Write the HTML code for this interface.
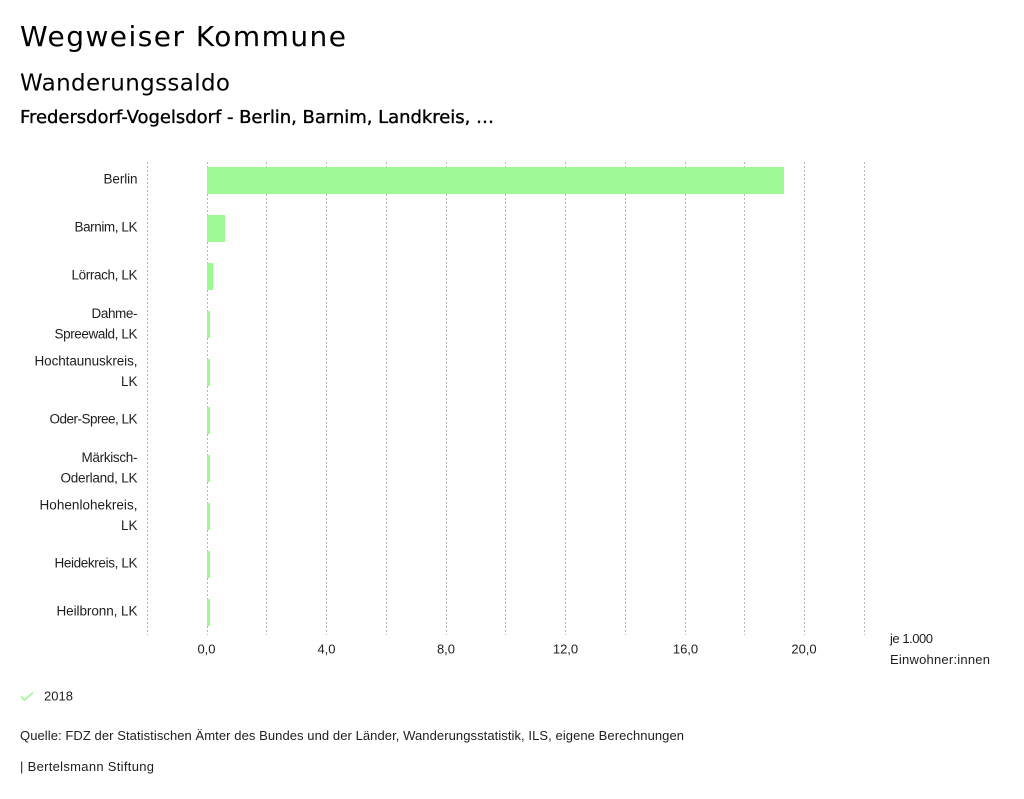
<!DOCTYPE html>
<html>
<head>
<meta charset="utf-8">
<style>
  html, body { margin: 0; padding: 0; background: #ffffff; }
  body { width: 1024px; height: 799px; overflow: hidden; }
  svg { display: block; }
  .t { font-family: "DejaVu Sans", "Liberation Sans", sans-serif; fill: #000; }
  .s { font-family: "Liberation Sans", "DejaVu Sans", sans-serif; fill: #1e1e1e; font-size: 13px; }
  .l { font-family: "Liberation Sans", "DejaVu Sans", sans-serif; fill: #1e1e1e; font-size: 13.5px; }
</style>
</head>
<body>
<svg width="1024" height="799" viewBox="0 0 1024 799" xmlns="http://www.w3.org/2000/svg">
  <rect x="0" y="0" width="1024" height="799" fill="#ffffff"/>

  <!-- Titles -->
  <text class="t" x="20" y="46" font-size="28" textLength="326" lengthAdjust="spacing">Wegweiser Kommune</text>
  <text class="t" x="20" y="90.5" font-size="23" textLength="210" lengthAdjust="spacing">Wanderungssaldo</text>
  <text class="t" x="20" y="123" font-size="18" stroke="#000" stroke-width="0.35" textLength="474" lengthAdjust="spacing">Fredersdorf-Vogelsdorf - Berlin, Barnim, Landkreis, …</text>

  <!-- Grid lines -->
  <g stroke="#b5b5b5" stroke-width="1" stroke-dasharray="2,2">
    <line x1="147.5" y1="162" x2="147.5" y2="635"/>
    <line x1="207.5" y1="162" x2="207.5" y2="635"/>
    <line x1="266.5" y1="162" x2="266.5" y2="635"/>
    <line x1="326.5" y1="162" x2="326.5" y2="635"/>
    <line x1="386.5" y1="162" x2="386.5" y2="635"/>
    <line x1="446.5" y1="162" x2="446.5" y2="635"/>
    <line x1="505.5" y1="162" x2="505.5" y2="635"/>
    <line x1="565.5" y1="162" x2="565.5" y2="635"/>
    <line x1="625.5" y1="162" x2="625.5" y2="635"/>
    <line x1="685.5" y1="162" x2="685.5" y2="635"/>
    <line x1="744.5" y1="162" x2="744.5" y2="635"/>
    <line x1="804.5" y1="162" x2="804.5" y2="635"/>
    <line x1="864.5" y1="162" x2="864.5" y2="635"/>
  </g>

  <!-- Bars -->
  <g fill="#9cf993">
    <rect x="207" y="167" width="577" height="27"/>
    <rect x="207" y="215" width="18" height="27"/>
    <rect x="207" y="263" width="6" height="27"/>
    <rect x="207" y="311" width="3" height="27"/>
    <rect x="207" y="359" width="3" height="27"/>
    <rect x="207" y="407" width="3" height="27"/>
    <rect x="207" y="455" width="3" height="27"/>
    <rect x="207" y="503" width="3" height="27"/>
    <rect x="207" y="551" width="3" height="27"/>
    <rect x="207" y="599" width="3" height="27"/>
  </g>

  <!-- Category labels -->
  <text class="l" x="137.5" y="183.5" text-anchor="end" textLength="34" lengthAdjust="spacing">Berlin</text>
  <text class="l" x="137.5" y="231.5" text-anchor="end" textLength="63" lengthAdjust="spacing">Barnim, LK</text>
  <text class="l" x="137.5" y="279.5" text-anchor="end" textLength="66" lengthAdjust="spacing">Lörrach, LK</text>
  <text class="l" x="137.5" y="318" text-anchor="end" textLength="46" lengthAdjust="spacing">Dahme-</text>
  <text class="l" x="137.5" y="338.5" text-anchor="end" textLength="83" lengthAdjust="spacing">Spreewald, LK</text>
  <text class="l" x="137.5" y="365.5" text-anchor="end" textLength="103" lengthAdjust="spacing">Hochtaunuskreis,</text>
  <text class="l" x="137.5" y="386" text-anchor="end">LK</text>
  <text class="l" x="137.5" y="423.5" text-anchor="end" textLength="88" lengthAdjust="spacing">Oder-Spree, LK</text>
  <text class="l" x="137.5" y="462" text-anchor="end" textLength="56" lengthAdjust="spacing">Märkisch-</text>
  <text class="l" x="137.5" y="482.5" text-anchor="end" textLength="77" lengthAdjust="spacing">Oderland, LK</text>
  <text class="l" x="137.5" y="509.5" text-anchor="end" textLength="98" lengthAdjust="spacing">Hohenlohekreis,</text>
  <text class="l" x="137.5" y="530" text-anchor="end">LK</text>
  <text class="l" x="137.5" y="567.5" text-anchor="end" textLength="83" lengthAdjust="spacing">Heidekreis, LK</text>
  <text class="l" x="137.5" y="615.5" text-anchor="end" textLength="81" lengthAdjust="spacing">Heilbronn, LK</text>

  <!-- Tick labels -->
  <text class="s" x="206.5" y="653.5" text-anchor="middle" font-size="12.5">0,0</text>
  <text class="s" x="326.5" y="653.5" text-anchor="middle" font-size="12.5">4,0</text>
  <text class="s" x="446" y="653.5" text-anchor="middle" font-size="12.5">8,0</text>
  <text class="s" x="565.5" y="653.5" text-anchor="middle" font-size="12.5">12,0</text>
  <text class="s" x="685.5" y="653.5" text-anchor="middle" font-size="12.5">16,0</text>
  <text class="s" x="804" y="653.5" text-anchor="middle" font-size="12.5">20,0</text>

  <!-- Unit -->
  <text class="s" x="890" y="643" textLength="43" lengthAdjust="spacing">je 1.000</text>
  <text class="s" x="890" y="664" textLength="100" lengthAdjust="spacing">Einwohner:innen</text>

  <!-- Legend -->
  <polyline points="21,696.5 24.5,700 33,692.5" fill="none" stroke="#9cf993" stroke-width="1.6"/>
  <text class="s" x="44" y="700.5" font-size="12.5">2018</text>

  <!-- Footer -->
  <text class="s" x="20" y="740" font-size="12.5" textLength="664" lengthAdjust="spacing">Quelle: FDZ der Statistischen Ämter des Bundes und der Länder, Wanderungsstatistik, ILS, eigene Berechnungen</text>
  <text class="s" x="20" y="771" font-size="12.5" textLength="134" lengthAdjust="spacing">| Bertelsmann Stiftung</text>
</svg>
</body>
</html>
